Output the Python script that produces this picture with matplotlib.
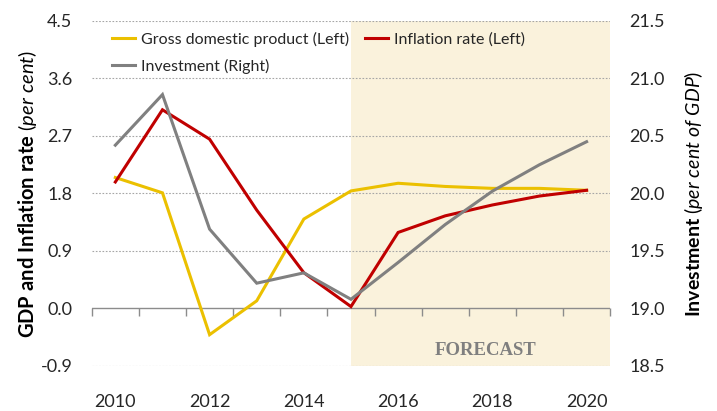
import matplotlib
matplotlib.use("Agg")
import matplotlib.pyplot as plt
from matplotlib.lines import Line2D

plt.rcParams['font.family'] = ['Lato', 'DejaVu Sans']
plt.rcParams['mathtext.fontset'] = 'custom'
plt.rcParams['mathtext.rm'] = 'Lato'
plt.rcParams['mathtext.bf'] = 'Lato:bold'
plt.rcParams['mathtext.it'] = 'Lato:italic'

years = [2010, 2011, 2012, 2013, 2014, 2015, 2016, 2017, 2018, 2019, 2020]
gdp = [2.05, 1.81, -0.41, 0.12, 1.40, 1.84, 1.96, 1.91, 1.88, 1.88, 1.85]
inflation = [1.98, 3.11, 2.65, 1.54, 0.56, 0.03, 1.19, 1.45, 1.62, 1.76, 1.85]
investment = [20.42, 20.86, 19.69, 19.22, 19.31, 19.08, 19.40, 19.73, 20.02, 20.25, 20.45]
forecast_start = 2015
left_ticks = [-0.9, 0.0, 0.9, 1.8, 2.7, 3.6, 4.5]
right_ticks = [18.5, 19.0, 19.5, 20.0, 20.5, 21.0, 21.5]

C_GDP = '#EBC000'
C_INF = '#C00000'
C_INV = '#808080'
C_FC = '#FAF2DC'
C_TXT = '#262626'

fig = plt.figure(figsize=(7.17, 4.11), dpi=100)
ax = fig.add_axes([0.128, 0.1095, 0.723, 0.8395])
ax2 = ax.twinx()

xmin, xmax = years[0] - 0.5, years[-1] + 0.5
ax.set_xlim(xmin, xmax)
ax.set_ylim(left_ticks[0], left_ticks[-1])
ax2.set_ylim(right_ticks[0], right_ticks[-1])

# forecast band
ax.axvspan(forecast_start, xmax, color=C_FC, zorder=0, lw=0)
ax.text((forecast_start + xmax) / 2 + 0.1, -0.66, 'FORECAST', ha='center', va='center',
        family='Liberation Serif', fontweight='bold', fontsize=13.5, color='#7F7F7F')

# gridlines
for v in left_ticks:
    if v != 0:
        ax.axhline(v, color='#A6A6A6', lw=0.8, ls=(0, (1.5, 1.5)), zorder=1)
ax.axhline(0, color='#8C8C8C', lw=1.0, zorder=2)

# category boundary ticks on zero line
sec = ax.secondary_xaxis((0 - left_ticks[0]) / (left_ticks[-1] - left_ticks[0]))
sec.set_xticks([y - 0.5 for y in years] + [years[-1] + 0.5])
sec.tick_params(direction='out', length=6, width=1.0, color='#8C8C8C', labelbottom=False)
sec.spines['bottom'].set_visible(False)

ax.plot(years, gdp, color=C_GDP, lw=2.2, zorder=3, solid_joinstyle='miter')
ax.plot(years, inflation, color=C_INF, lw=2.2, zorder=4, solid_joinstyle='miter')
ax2.plot(years, investment, color=C_INV, lw=2.2, zorder=3, solid_joinstyle='miter')

for a in (ax, ax2):
    for s in a.spines.values():
        s.set_visible(False)

ax.set_xticks(years[::2])
ax.set_xticklabels([str(y) for y in years[::2]])
ax.tick_params(axis='x', length=0, pad=20, labelsize=13, labelcolor=C_TXT)
ax.set_yticks(left_ticks)
ax.set_yticklabels([f'{v:.1f}' for v in left_ticks])
ax.tick_params(axis='y', length=0, pad=14, labelsize=13, labelcolor=C_TXT)
ax2.set_yticks(right_ticks)
ax2.set_yticklabels([f'{v:.1f}' for v in right_ticks])
ax2.tick_params(axis='y', length=0, pad=14, labelsize=13, labelcolor=C_TXT)

ax.set_ylabel(r'$\mathbf{GDP\ and\ Inflation\ rate}$ $\mathit{(per\ cent)}$',
              fontsize=14.5, color='black', labelpad=1)
ax2.set_ylabel(r'$\mathbf{Investment}$ $\mathit{(per\ cent\ of\ GDP)}$',
               fontsize=14, color='black', labelpad=12, rotation=90)

handles = [Line2D([], [], color=C_GDP, lw=2.2), Line2D([], [], color=C_INV, lw=2.2),
           Line2D([], [], color=C_INF, lw=2.2)]
labels = ['Gross domestic product (Left)', 'Investment (Right)', 'Inflation rate (Left)']
ax.legend(handles, labels, ncol=2, loc='upper left', bbox_to_anchor=(0.012, 1.01),
          frameon=False, fontsize=11.5, handlelength=1.4, handletextpad=0.4,
          columnspacing=1.0, labelspacing=0.75, labelcolor=C_TXT)

fig.savefig('out.png', dpi=100)
